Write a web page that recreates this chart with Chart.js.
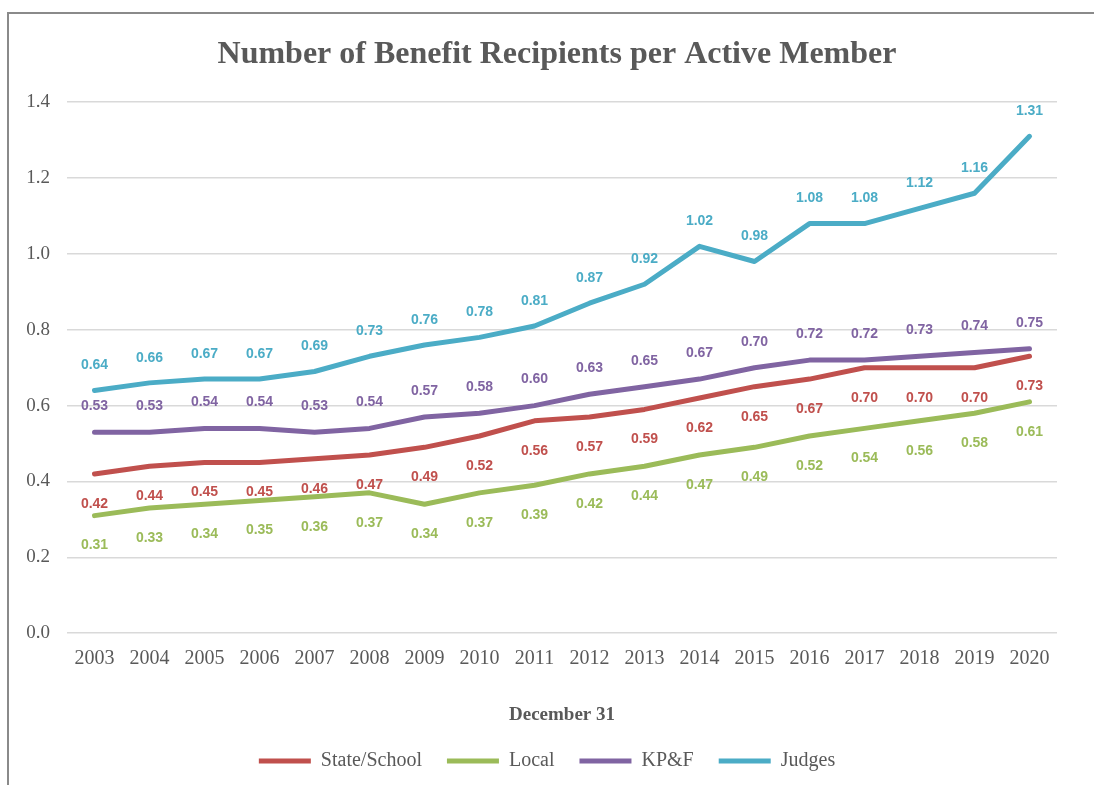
<!DOCTYPE html>
<html>
<head>
<meta charset="utf-8">
<script src="https://cdn.jsdelivr.net/npm/chart.js@4"></script>
<style>
  html, body { margin: 0; padding: 0; background: #fff; }
  #wrap { position: relative; width: 1094px; height: 785px; overflow: hidden; }
  #frame { position: absolute; left: 7px; top: 12px; width: 1200px; height: 900px; border: 2px solid #8a8a8a; box-sizing: border-box; }
  canvas { position: absolute; left: 0; top: 0; }
</style>
</head>
<body>
<div id="wrap">
  <div id="frame"></div>
  <canvas id="c" width="1094" height="785"></canvas>
</div>
<script>
const years = ['2003','2004','2005','2006','2007','2008','2009','2010','2011','2012','2013','2014','2015','2016','2017','2018','2019','2020'];
const stateSchool = [0.42,0.44,0.45,0.45,0.46,0.47,0.49,0.52,0.56,0.57,0.59,0.62,0.65,0.67,0.70,0.70,0.70,0.73];
const local      = [0.31,0.33,0.34,0.35,0.36,0.37,0.34,0.37,0.39,0.42,0.44,0.47,0.49,0.52,0.54,0.56,0.58,0.61];
const kpf        = [0.53,0.53,0.54,0.54,0.53,0.54,0.57,0.58,0.60,0.63,0.65,0.67,0.70,0.72,0.72,0.73,0.74,0.75];
const judges     = [0.64,0.66,0.67,0.67,0.69,0.73,0.76,0.78,0.81,0.87,0.92,1.02,0.98,1.08,1.08,1.12,1.16,1.31];
const yTicks = [0, 0.2, 0.4, 0.6, 0.8, 1.0, 1.2, 1.4];
const titleText = 'Number of Benefit Recipients per Active Member';

const serif = '"Liberation Serif", "Times New Roman", serif';
const grey = '#595959';

const labelPlugin = {
  id: 'valueLabels',
  afterDatasetsDraw(chart) {
    const ctx = chart.ctx;
    ctx.save();
    ctx.font = 'bold 14px "Liberation Sans", Arial, sans-serif';
    ctx.textAlign = 'center';
    ctx.textBaseline = 'middle';
    chart.data.datasets.forEach((ds, i) => {
      const meta = chart.getDatasetMeta(i);
      ctx.fillStyle = ds.borderColor;
      meta.data.forEach((pt, j) => {
        ctx.fillText(ds.data[j].toFixed(2), pt.x, pt.y + ds.labelOffset);
      });
    });
    ctx.restore();
  }
};

const titlePlugin = {
  id: 'customTitle',
  afterDraw(chart) {
    const ctx = chart.ctx;
    ctx.save();
    ctx.font = 'bold 32px ' + serif;
    ctx.fillStyle = grey;
    ctx.textAlign = 'center';
    ctx.textBaseline = 'alphabetic';
    ctx.fillText(titleText, 557, 63);
    ctx.restore();
  }
};

new Chart(document.getElementById('c'), {
  type: 'line',
  data: {
    labels: years,
    datasets: [
      { label: 'State/School', data: stateSchool, borderColor: '#C0504D', backgroundColor: '#C0504D', labelOffset: 30 },
      { label: 'Local', data: local, borderColor: '#9BBB59', backgroundColor: '#9BBB59', labelOffset: 30 },
      { label: 'KP&F', data: kpf, borderColor: '#8064A2', backgroundColor: '#8064A2', labelOffset: -26 },
      { label: 'Judges', data: judges, borderColor: '#4BACC6', backgroundColor: '#4BACC6', labelOffset: -25 }
    ].map(d => Object.assign(d, { borderWidth: 5, pointRadius: 0, tension: 0, fill: false, borderCapStyle: 'round', borderJoinStyle: 'round', yAxisID: 'y' }))
  },
  options: {
    responsive: false,
    animation: false,
    layout: { padding: { left: 0, right: 0, top: 19, bottom: 4 } },
    plugins: {
      title: {
        display: true,
        text: titleText,
        color: 'rgba(0,0,0,0)',
        font: { family: serif, size: 31, weight: 'bold' },
        padding: { top: 15, bottom: 31 }
      },
      legend: {
        position: 'bottom',
        labels: {
          color: grey,
          font: { family: serif, size: 20 },
          boxWidth: 52,
          boxHeight: 5,
          padding: 25,
          generateLabels(chart) {
            return chart.data.datasets.map((ds, i) => ({
              text: ds.label,
              fillStyle: ds.borderColor,
              strokeStyle: ds.borderColor,
              lineWidth: 0,
              fontColor: grey,
              datasetIndex: i,
              hidden: false
            }));
          }
        }
      },
      tooltip: { enabled: false }
    },
    scales: {
      x: {
        offset: true,
        grid: { display: false, drawTicks: false },
        border: { display: false },
        ticks: { color: grey, font: { family: serif, size: 20 }, padding: 14, maxRotation: 0, autoSkip: false },
        title: { display: true, text: 'December 31', color: grey, font: { family: serif, size: 19, weight: 'bold' }, padding: { top: 18, bottom: 0 } }
      },
      y: {
        min: 0, max: 1.4,
        afterFit(scale) { scale.width = 67; },
        afterBuildTicks(scale) { scale.ticks = yTicks.map(v => ({ value: v })); },
        grid: { color: '#d9d9d9', lineWidth: 1.5, drawTicks: false },
        border: { display: false },
        ticks: { color: grey, font: { family: serif, size: 19 }, padding: 17, callback: v => Number(v).toFixed(1) }
      },
      yRight: {
        position: 'right',
        min: 0, max: 1.4,
        afterFit(scale) { scale.width = 37; },
        grid: { display: false, drawTicks: false },
        border: { display: false },
        ticks: { display: false }
      }
    }
  },
  plugins: [labelPlugin, titlePlugin]
});
</script>
</body>
</html>
